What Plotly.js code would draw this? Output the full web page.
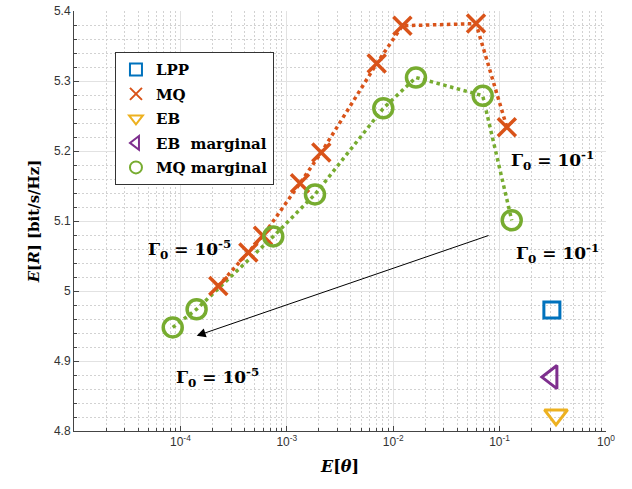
<!DOCTYPE html>
<html>
<head>
<meta charset="utf-8">
<script src="https://cdn.plot.ly/plotly-3.0.1.min.js"></script>
<style>html,body{margin:0;padding:0;background:#fff;}#chart{width:632px;height:489px;}</style>
</head>
<body>
<div id="chart"></div>
<script>
// ---- data ----
const mqX = [2.27e-4, 4.35e-4, 5.97e-4, 1.33e-3, 2.11e-3, 7.0e-3, 1.22e-2, 6.0e-2, 1.17e-1];
const mqY = [5.007, 5.055, 5.079, 5.154, 5.198, 5.325, 5.379, 5.382, 5.234];
const mqMargX = [8.47e-5, 1.42e-4, 7.46e-4, 1.84e-3, 8.07e-3, 1.637e-2, 6.94e-2, 1.30e-1];
const mqMargY = [4.948, 4.974, 5.078, 5.138, 5.261, 5.305, 5.279, 5.101];
const lppX = [0.31];
const lppY = [4.973];
const ebX = [0.339];
const ebY = [4.823];
const ebMargX = [0.31];
const ebMargY = [4.877];
const seriesNames = ['LPP', 'MQ', 'EB', 'EB&nbsp;&nbsp;marginal', 'MQ marginal'];
const xTickVals = [1e-4, 1e-3, 1e-2, 1e-1, 1];
const xTickText = ['10<sup>-4</sup>', '10<sup>-3</sup>', '10<sup>-2</sup>', '10<sup>-1</sup>', '10<sup>0</sup>'];
const yTickVals = [4.8, 4.9, 5.0, 5.1, 5.2, 5.3, 5.4];

const C_BLUE = '#0072BD', C_ORANGE = '#D95319', C_YELLOW = '#EDB120', C_PURPLE = '#7E2F8E', C_GREEN = '#77AC30';
const serif = 'DejaVu Serif';
const nm = (s) => '<b>' + s + '</b>';

const traces = [
  {x: mqX, y: mqY, mode: 'lines', line: {color: C_ORANGE, width: 3.5, dash: 'dot'}, showlegend: false, hoverinfo: 'skip'},
  {x: mqMargX, y: mqMargY, mode: 'lines', line: {color: C_GREEN, width: 3.5, dash: 'dot'}, showlegend: false, hoverinfo: 'skip'},
  {x: lppX, y: lppY, mode: 'markers', name: nm(seriesNames[0]), legendgroup: 'a',
   marker: {symbol: 'square-open', size: 16, color: C_BLUE, line: {color: C_BLUE, width: 3}}},
  {x: mqX, y: mqY, mode: 'markers', name: nm(seriesNames[1]), legendgroup: 'b',
   marker: {symbol: 'x-thin', size: 18, color: C_ORANGE, line: {color: C_ORANGE, width: 3.5}}},
  {x: ebX, y: ebY, mode: 'markers', name: nm(seriesNames[2]), legendgroup: 'c',
   marker: {symbol: 'triangle-down-open', size: 20, color: C_YELLOW, line: {color: C_YELLOW, width: 3}}},
  {x: ebMargX, y: ebMargY, mode: 'markers', name: nm(seriesNames[3]), legendgroup: 'd',
   marker: {symbol: 'triangle-left-open', size: 20, color: C_PURPLE, line: {color: C_PURPLE, width: 3}}},
  {x: mqMargX, y: mqMargY, mode: 'markers', name: nm(seriesNames[4]), legendgroup: 'e',
   marker: {symbol: 'circle-open', size: 19, color: C_GREEN, line: {color: C_GREEN, width: 3.5}}}
];

const annFont = {family: serif, size: 17, color: '#000'};
const gamma = (e) => '<b>Γ<sub>0</sub> = 10<sup>' + e + '</sup></b>';

const layout = {
  width: 632, height: 489,
  margin: {l: 74, r: 26, t: 11, b: 58, pad: 0},
  paper_bgcolor: '#fff', plot_bgcolor: '#fff',
  showlegend: true,
  legend: {
    x: 0.077, y: 0.902, xanchor: 'left', yanchor: 'top',
    bgcolor: '#fff', bordercolor: '#333', borderwidth: 1,
    font: {family: serif, size: 15, color: '#000'},
    itemsizing: 'constant', tracegroupgap: 2, entrywidth: 136
  },
  xaxis: {
    type: 'log', range: [-5, 0],
    tickvals: xTickVals, ticktext: xTickText,
    ticks: 'inside', ticklen: 5, tickcolor: '#444',
    showline: true, linecolor: '#444', linewidth: 1,
    showgrid: true, gridcolor: '#e2e2e2', gridwidth: 1, zeroline: false,
    minor: {dtick: 'D1', showgrid: true, gridcolor: '#d2d2d2', griddash: '2px,2px', ticks: 'inside', ticklen: 3, tickcolor: '#444'},
    tickfont: {family: 'Liberation Sans', size: 12, color: '#333'},
    title: {text: '<b><i>E</i>[<i>θ</i>]</b>', font: {family: serif, size: 16, color: '#000'}, standoff: 12},
    automargin: false
  },
  yaxis: {
    range: [4.8, 5.4], tickvals: yTickVals,
    ticks: 'inside', ticklen: 5, tickcolor: '#444',
    showline: true, linecolor: '#444', linewidth: 1,
    showgrid: true, gridcolor: '#e2e2e2', gridwidth: 1, zeroline: false,
    minor: {dtick: 0.02, showgrid: true, gridcolor: '#d2d2d2', griddash: '2px,2px', ticks: 'inside', ticklen: 3, tickcolor: '#444'},
    tickfont: {family: 'Liberation Sans', size: 12, color: '#333'},
    title: {text: '<b><i>E</i>[<i>R</i>] [bit/s/Hz]</b>', font: {family: serif, size: 15, color: '#000'}, standoff: 10},
    automargin: false
  },
  annotations: [
    {x: Math.log10(1.23e-4), y: 5.059, xref: 'x', yref: 'y', text: gamma('-5'), showarrow: false, font: annFont},
    {x: Math.log10(2.25e-4), y: 4.877, xref: 'x', yref: 'y', text: gamma('-5'), showarrow: false, font: annFont},
    {x: Math.log10(0.311), y: 5.187, xref: 'x', yref: 'y', text: gamma('-1'), showarrow: false, font: annFont},
    {x: Math.log10(0.347), y: 5.054, xref: 'x', yref: 'y', text: gamma('-1'), showarrow: false, font: annFont},
    {x: -3.847, y: 4.936, ax: -1.09, ay: 5.08, xref: 'x', yref: 'y', axref: 'x', ayref: 'y',
     text: '', showarrow: true, arrowhead: 2, arrowsize: 1.8, arrowwidth: 1, arrowcolor: '#000', standoff: 0}
  ]
};

Plotly.newPlot('chart', traces, layout, {displayModeBar: false, staticPlot: true});
</script>
</body>
</html>
